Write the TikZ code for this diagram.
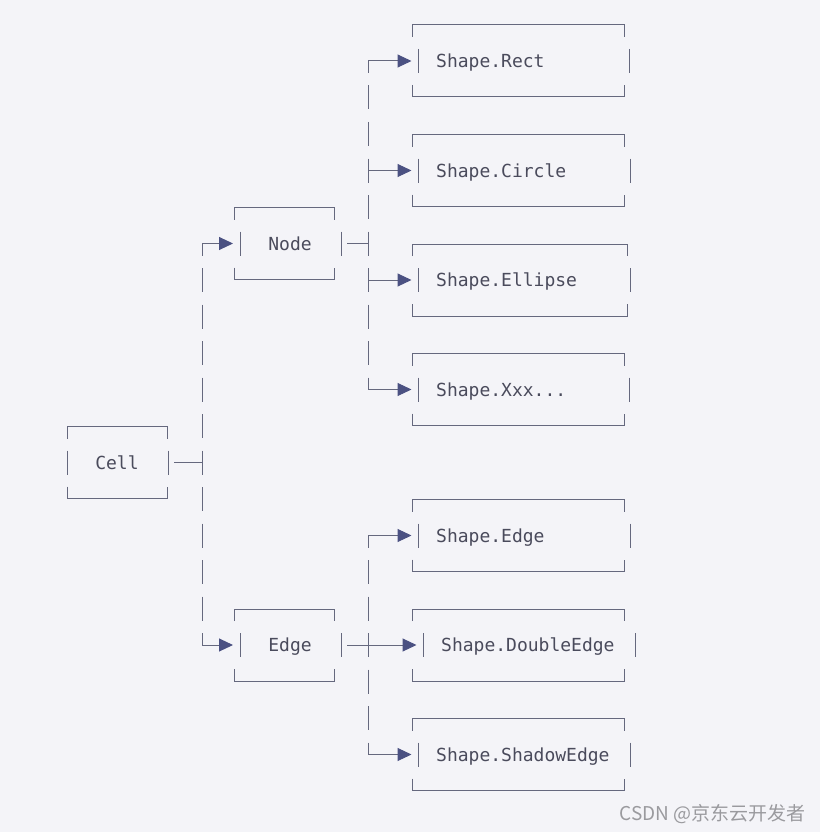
\documentclass[tikz,border=0pt]{standalone}
\usepackage{fontspec}
\setmonofont{DejaVu Sans Mono}
\newfontfamily\cjkfont{Noto Sans CJK SC}
\usetikzlibrary{arrows.meta}

\definecolor{bgc}{HTML}{F4F4F8}
\definecolor{linec}{HTML}{65687E}
\definecolor{tipc}{HTML}{4B5182}
\definecolor{textc}{HTML}{4A4B5C}
\definecolor{markc}{HTML}{9A9A9E}

\newcommand{\threedots}{...}

\tikzset{
	wire/.style={draw=linec, line width=1pt},
	spine/.style={wire, dash pattern=on 24pt off 12.5pt, dash phase=12pt},
	feed/.style={wire, -{Triangle[length=14pt, width=13pt, color=tipc]}},
	boxtext/.style={font=\ttfamily\fontsize{18}{20}\selectfont, text=textc, inner sep=0pt},
}

\begin{document}
\begin{tikzpicture}[x=1pt, y=-1pt]
		\fill[bgc] (0, 0) rectangle (820, 832);
		\useasboundingbox (0, 0) rectangle (820, 832);

		% parent boxes
		\foreach \n/\y/\l/\r/\lb/\rb/\cx/\t in {cell/462.5/67/167/67/168/117/Cell, node/243.5/234/334/240/341/290/Node, edge/645/234/334/240/341/290/Edge}{
			\draw[wire] (\l, \y-24) -- (\l, \y-36) -- (\r, \y-36) -- (\r, \y-24);
			\draw[wire] (\l, \y+24) -- (\l, \y+36) -- (\r, \y+36) -- (\r, \y+24);
			\draw[wire] (\lb, \y-12) -- (\lb, \y+12);
			\draw[wire] (\rb, \y-12) -- (\rb, \y+12);
			\node[boxtext, anchor=base] (\n) at (\cx, \y+6.5) {\t};
			\coordinate (\n-in) at (\lb-7, \y);
			\coordinate (\n-out) at (\rb+6, \y);
		}

		% spines
		\draw[spine] (202, 243.5) -- (202, 645);
		\draw[spine] (368, 61) -- (368, 389.5);
		\draw[spine] (368, 535.5) -- (368, 754.5);

		\draw[wire] (cell-out) -- (202, 462.5);
		\draw[wire] (node-out) -- (368, 243.5);
		\draw[feed] (202, 243.5) -- (node-in);
		\draw[feed] (202, 645) -- (edge-in);

		% shape boxes
		\foreach \n/\y/\l/\r/\lb/\rb/\sx/\t in {rect/61/412/624/418/629/368/Shape.Rect, circle/170.5/412/624/418/630/368/Shape.Circle, ellipse/280/412/627/418/630/368/Shape.Ellipse, xxx/389.5/412/624/418/629/368/Shape.Xxx\threedots, sedge/535.5/412/624/418/630/368/Shape.Edge, dedge/645/412/624/423/635/347/Shape.DoubleEdge, shedge/754.5/412/624/418/630/368/Shape.ShadowEdge}{
			\draw[wire] (\l, \y-24) -- (\l, \y-36) -- (\r, \y-36) -- (\r, \y-24);
			\draw[wire] (\l, \y+24) -- (\l, \y+36) -- (\r, \y+36) -- (\r, \y+24);
			\draw[wire] (\lb, \y-12) -- (\lb, \y+12);
			\draw[wire] (\rb, \y-12) -- (\rb, \y+12);
			\node[boxtext, anchor=base west] (\n) at (\lb+18, \y+6.5) {\t};
			\coordinate (\n-in) at (\lb-6.5, \y);
			\draw[feed] (\sx, \y) -- (\n-in);
		}

		\node[anchor=base east, text=markc, inner sep=0pt, font=\cjkfont\fontsize{19}{20}\selectfont] (mark) at (806, 820) {CSDN @京东云开发者};
	\end{tikzpicture}
\end{document}
